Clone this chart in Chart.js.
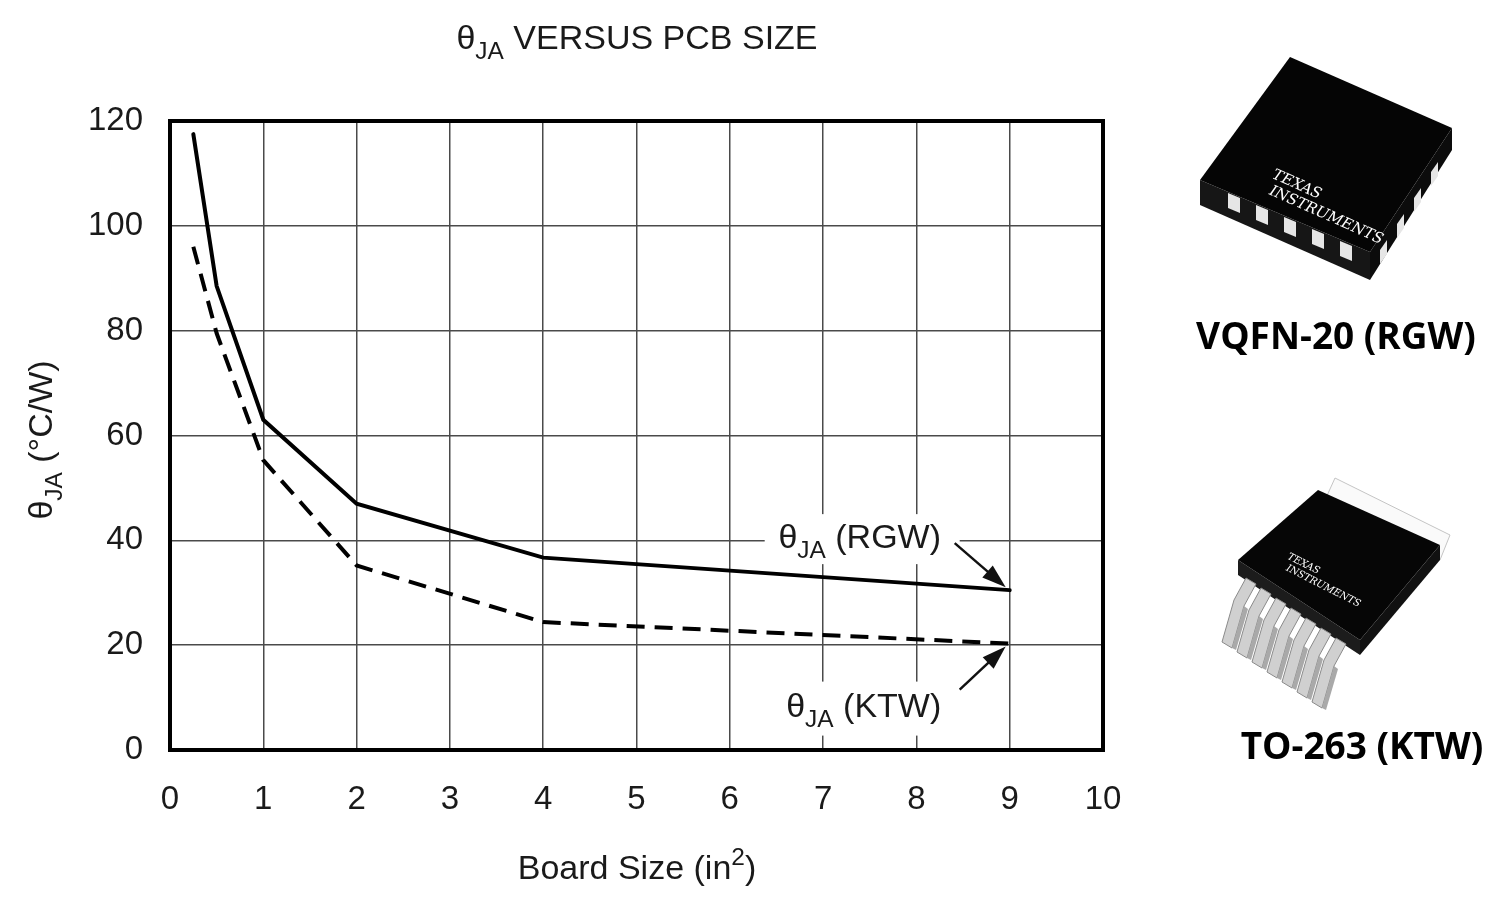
<!DOCTYPE html>
<html>
<head>
<meta charset="utf-8">
<script src="https://cdn.jsdelivr.net/npm/chart.js@4.4.1/dist/chart.umd.min.js"></script>
<style>
  html,body{margin:0;padding:0;background:#fff;}
  #wrap{width:1500px;height:903px;position:relative;}
</style>
</head>
<body>
<div id="wrap"><canvas id="thetaChart" width="1500" height="903"></canvas></div>
<script>
// board size (in^2) and theta-JA readings
const boardSize=[0.25,0.5,1,2,4,9];
const thetaRGW=[117.5,88.5,63,47,36.7,30.5];
const thetaKTW=[96,79.5,55.3,35.2,24.4,20.3];
const xTicks=[0,1,2,3,4,5,6,7,8,9,10];
const yTicks=[0,20,40,60,80,100,120];

const FONT='"Liberation Sans", Arial, sans-serif';

// draws text made of parts, some sub/superscripted
function richText(ctx,parts,x,y,size,align){
  ctx.save();
  ctx.textBaseline='alphabetic';
  let w=0;
  parts.forEach(p=>{
    ctx.font=(p.sub||p.sup? size*0.72:size)+'px '+FONT;
    w+=ctx.measureText(p.t).width;
  });
  let cx=align==='center'?x-w/2:(align==='right'?x-w:x);
  parts.forEach(p=>{
    const s=p.sub||p.sup? size*0.72:size;
    ctx.font=s+'px '+FONT;
    let dy=p.sub? size*0.3:(p.sup? -size*0.42:0);
    ctx.fillText(p.t,cx,y+dy);
    cx+=ctx.measureText(p.t).width;
  });
  ctx.restore();
  return w;
}

function arrow(ctx,x1,y1,x2,y2){
  const a=Math.atan2(y2-y1,x2-x1),L=24,W=8;
  ctx.save();
  ctx.strokeStyle='#111';ctx.fillStyle='#111';ctx.lineWidth=2.5;
  ctx.beginPath();ctx.moveTo(x1,y1);ctx.lineTo(x2-Math.cos(a)*L*0.8,y2-Math.sin(a)*L*0.8);ctx.stroke();
  ctx.beginPath();
  ctx.moveTo(x2,y2);
  ctx.lineTo(x2-Math.cos(a)*L+Math.sin(a)*W,y2-Math.sin(a)*L-Math.cos(a)*W);
  ctx.lineTo(x2-Math.cos(a)*L-Math.sin(a)*W,y2-Math.sin(a)*L+Math.cos(a)*W);
  ctx.closePath();ctx.fill();
  ctx.restore();
}

function poly(ctx,pts,fill,stroke){
  ctx.beginPath();
  ctx.moveTo(pts[0][0],pts[0][1]);
  for(let i=1;i<pts.length;i++)ctx.lineTo(pts[i][0],pts[i][1]);
  ctx.closePath();
  ctx.fillStyle=fill;ctx.fill();
  if(stroke){ctx.strokeStyle=stroke;ctx.lineWidth=1;ctx.stroke();}
}

function drawChips(ctx){
  ctx.save();
  // VQFN-20 package
  poly(ctx,[[1200,180],[1370,252],[1370,280],[1200,205]],'#161616');
  poly(ctx,[[1370,252],[1452,128],[1452,150],[1370,280]],'#0c0c0c');
  poly(ctx,[[1290,57],[1452,128],[1370,252],[1200,180]],'#050505');
  for(let i=0;i<5;i++){
    const px=1228+i*28,py=193+i*12;
    poly(ctx,[[px,py],[px+12,py+5],[px+12,py+20],[px,py+15]],'#e6e6e6');
  }
  for(let i=0;i<4;i++){
    const px=1380+i*17,py=250-i*26;
    poly(ctx,[[px,py],[px+7,py-10],[px+7,py+4],[px,py+14]],'#e6e6e6');
  }
  ctx.translate(1268,185);ctx.rotate(0.42);
  ctx.fillStyle='#fff';ctx.font='italic 15px "DejaVu Serif", serif';
  ctx.fillText('TEXAS',0,-8);ctx.fillText('INSTRUMENTS',4,8);
  ctx.restore();

  ctx.save();
  // TO-263 package
  poly(ctx,[[1335,478],[1450,535],[1440,560],[1325,500]],'#fafafa','#c4c4c4');
  poly(ctx,[[1238,560],[1360,640],[1360,655],[1238,575]],'#1c1c1c');
  poly(ctx,[[1360,640],[1440,545],[1440,560],[1360,655]],'#111');
  poly(ctx,[[1318,490],[1440,545],[1360,640],[1238,560]],'#060606');
  for(let i=0;i<7;i++){
    const sx=1246+i*15,sy=578+i*10;
    poly(ctx,[[sx,sy],[sx+10,sy+6],[sx-2,sy+28],[sx-14,sy+70],[sx-24,sy+64],[sx-12,sy+22]],'#d0d0d0','#8a8a8a');
    poly(ctx,[[sx-2,sy+28],[sx+2,sy+31],[sx-10,sy+72],[sx-14,sy+70]],'#a9a9a9');
  }
  ctx.translate(1285,562);ctx.rotate(0.47);
  ctx.fillStyle='#fff';ctx.font='italic 10px "DejaVu Serif", serif';
  ctx.fillText('TEXAS',0,-4);ctx.fillText('INSTRUMENTS',4,7);
  ctx.restore();

  ctx.save();
  ctx.fillStyle='#000';ctx.textAlign='center';ctx.textBaseline='middle';
  ctx.font='bold 37px "Open Sans", "Noto Sans", sans-serif';
  ctx.fillText('VQFN-20 (RGW)',1336,338);
  ctx.fillText('TO-263 (KTW)',1362,748);
  ctx.restore();
}

const decor={
  id:'decor',
  afterDraw(chart){
    const ctx=chart.ctx,ca=chart.chartArea;
    const xs=chart.scales.x,ys=chart.scales.y;
    ctx.save();
    // frame
    ctx.strokeStyle='#000';ctx.lineWidth=4;
    ctx.strokeRect(ca.left,ca.top,ca.right-ca.left,ca.bottom-ca.top);
    ctx.fillStyle='#1a1a1a';
    // title
    richText(ctx,[{t:'θ'},{t:'JA',sub:true},{t:' VERSUS PCB SIZE'}],637,49,34,'center');
    // x axis title
    richText(ctx,[{t:'Board Size (in'},{t:'2',sup:true},{t:')'}],637,879,34,'center');
    // y axis title
    ctx.save();
    ctx.translate(52,440);ctx.rotate(-Math.PI/2);
    richText(ctx,[{t:'θ'},{t:'JA',sub:true},{t:' (°C/W)'}],0,0,34,'center');
    ctx.restore();

    // annotations anchored at last points
    const n=boardSize.length-1;
    const pR={x:xs.getPixelForValue(boardSize[n]),y:ys.getPixelForValue(thetaRGW[n])};
    const pK={x:xs.getPixelForValue(boardSize[n]),y:ys.getPixelForValue(thetaKTW[n])};
    ctx.fillStyle='#fff';
    ctx.fillRect(pR.x-245,pR.y-76,195,50);
    ctx.fillRect(pK.x-240,pK.y+38,192,54);
    ctx.fillStyle='#1a1a1a';
    richText(ctx,[{t:'θ'},{t:'JA',sub:true},{t:' (RGW)'}],pR.x-150,pR.y-42,34,'center');
    richText(ctx,[{t:'θ'},{t:'JA',sub:true},{t:' (KTW)'}],pK.x-146,pK.y+73,34,'center');
    arrow(ctx,pR.x-55,pR.y-47,pR.x-4,pR.y-3);
    arrow(ctx,pK.x-50,pK.y+46,pK.x-4,pK.y+3);
    ctx.restore();
    drawChips(ctx);
  }
};

const pts=(ys)=>boardSize.map((x,i)=>({x,y:ys[i]}));

new Chart(document.getElementById('thetaChart').getContext('2d'),{
  type:'scatter',
  data:{
    datasets:[{
      label:'θJA (RGW)',
      data:pts(thetaRGW),
      showLine:true,
      borderColor:'#000',borderWidth:4,
      pointRadius:0,tension:0,
      borderCapStyle:'round'
    },{
      label:'θJA (KTW)',
      data:pts(thetaKTW),
      showLine:true,
      borderColor:'#000',borderWidth:4,
      borderDash:[18,10],
      pointRadius:0,tension:0
    }]
  },
  options:{
    responsive:false,
    animation:false,
    layout:{padding:{left:0,top:121,right:397,bottom:0}},
    plugins:{legend:{display:false},tooltip:{enabled:false},title:{display:false}},
    scales:{
      x:{
        type:'linear',min:0,max:10,
        afterFit:s=>{s.height=153;},
        afterBuildTicks:s=>{s.ticks=xTicks.map(v=>({value:v}));},
        grid:{color:'#4a4a4a',lineWidth:1.5,drawTicks:false},
        border:{display:false},
        ticks:{color:'#1a1a1a',padding:30,font:{family:FONT,size:33}}
      },
      y:{
        min:0,max:120,
        afterFit:s=>{s.width=170;},
        afterBuildTicks:s=>{s.ticks=yTicks.map(v=>({value:v}));},
        grid:{color:'#4a4a4a',lineWidth:1.5,drawTicks:false},
        border:{display:false},
        ticks:{color:'#1a1a1a',padding:27,font:{family:FONT,size:33}}
      }
    }
  },
  plugins:[decor]
});
</script>
</body>
</html>
